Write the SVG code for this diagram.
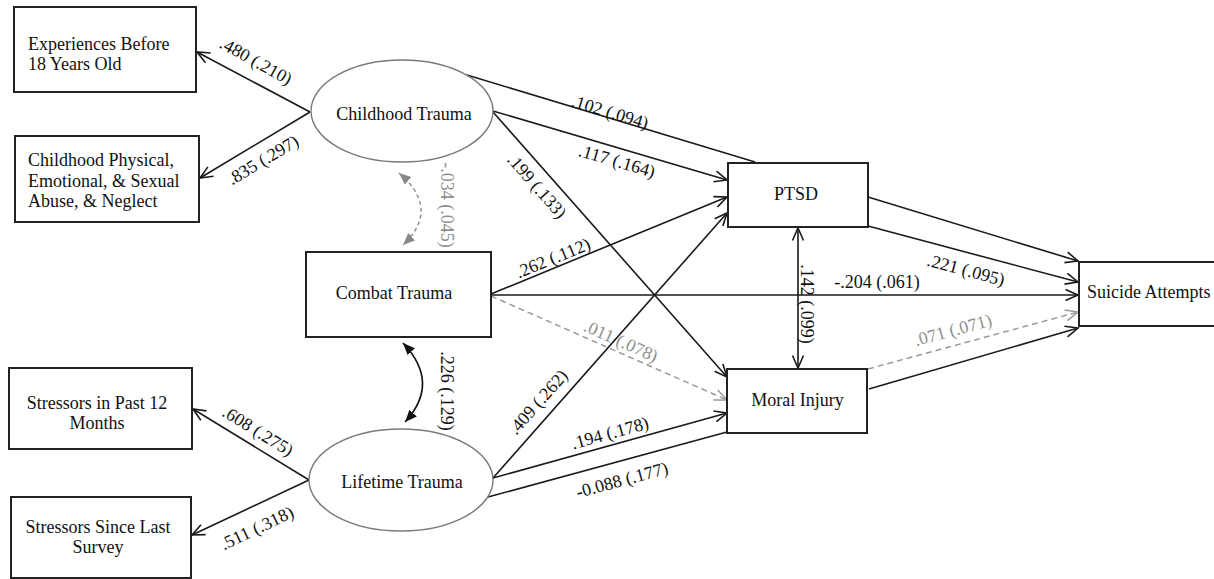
<svg xmlns="http://www.w3.org/2000/svg" width="1214" height="579" viewBox="0 0 1214 579">
<style>
text{font-family:"Liberation Serif","Times New Roman",serif;font-size:18px;fill:#111}
.box{fill:#fff;stroke:#222;stroke-width:2}
.ell{fill:#fff;stroke:#7a7a7a;stroke-width:1.4}
.ln{fill:none;stroke:#1a1a1a;stroke-width:1.6}
.gl{fill:none;stroke:#9a9a9a;stroke-width:1.5;stroke-dasharray:6 4}
.gt{fill:#8e8e8e}
.c{text-anchor:middle}
</style>
<defs>
<marker id="a" markerUnits="userSpaceOnUse" markerWidth="16" markerHeight="14" viewBox="0 0 16 14" refX="14" refY="7" orient="auto-start-reverse"><path d="M1.5,1.5 L14,7 L1.5,12.5" fill="none" stroke="#1a1a1a" stroke-width="1.6"/></marker>
<marker id="ag" markerUnits="userSpaceOnUse" markerWidth="16" markerHeight="14" viewBox="0 0 16 14" refX="14" refY="7" orient="auto-start-reverse"><path d="M1.5,1.5 L14,7 L1.5,12.5" fill="none" stroke="#9a9a9a" stroke-width="1.5"/></marker>
<marker id="f" markerUnits="userSpaceOnUse" markerWidth="14" markerHeight="12" viewBox="0 0 14 12" refX="12" refY="6" orient="auto-start-reverse"><path d="M0,1 L12,6 L0,11 z" fill="#111"/></marker>
<marker id="fg" markerUnits="userSpaceOnUse" markerWidth="14" markerHeight="12" viewBox="0 0 14 12" refX="12" refY="6" orient="auto-start-reverse"><path d="M0,1 L12,6 L0,11 z" fill="#888"/></marker>
</defs>
<rect width="1214" height="579" fill="#fff"/>
<g id="connectors">
<line class="ln" x1="310" y1="112" x2="197" y2="52" marker-end="url(#a)"/>
<line class="ln" x1="310" y1="112" x2="200" y2="178" marker-end="url(#a)"/>
<line class="ln" x1="309" y1="480" x2="193" y2="409" marker-end="url(#a)"/>
<line class="ln" x1="309" y1="480" x2="192" y2="535" marker-end="url(#a)"/>
<line class="ln" x1="467" y1="75" x2="755" y2="162"/>
<line class="ln" x1="493" y1="111" x2="727" y2="180" marker-end="url(#a)"/>
<line class="ln" x1="493" y1="112" x2="727" y2="377" marker-end="url(#a)"/>
<line class="ln" x1="491" y1="294" x2="727" y2="197" marker-end="url(#a)"/>
<line class="ln" x1="491" y1="295" x2="1078" y2="295" marker-end="url(#a)"/>
<line class="gl" x1="491" y1="296" x2="727" y2="400" marker-end="url(#ag)"/>
<line class="ln" x1="493" y1="478" x2="727" y2="213" marker-end="url(#a)"/>
<line class="ln" x1="493" y1="478" x2="727" y2="413" marker-end="url(#a)"/>
<line class="ln" x1="488" y1="497" x2="727" y2="432"/>
<line class="ln" x1="868" y1="197" x2="1078" y2="261" marker-end="url(#a)"/>
<line class="ln" x1="868" y1="226" x2="1078" y2="282" marker-end="url(#a)"/>
<line class="gl" x1="868" y1="369" x2="1078" y2="312" marker-end="url(#ag)"/>
<line class="ln" x1="869" y1="389" x2="1078" y2="328" marker-end="url(#a)"/>
<line class="ln" x1="798" y1="228" x2="798" y2="368" marker-start="url(#a)" marker-end="url(#a)"/>
<path d="M399,173 Q441,209 403,245" fill="none" stroke="#8a8a8a" stroke-width="1.4" stroke-dasharray="4 3" marker-start="url(#fg)" marker-end="url(#fg)"/>
<path d="M403,343 Q441,383 405,422" fill="none" stroke="#111" stroke-width="1.6" marker-start="url(#f)" marker-end="url(#f)"/>
</g>
<g id="labels">
<text class="c" transform="translate(256,61) rotate(29)" y="6">.480 (.210)</text>
<text class="c" transform="translate(263,160) rotate(-31)" y="6">.835 (.297)</text>
<text class="c" transform="translate(258,431) rotate(31.7)" y="6">.608 (.275)</text>
<text class="c" transform="translate(257,528) rotate(-25.6)" y="6">.511 (.318)</text>
<text class="c" transform="translate(610,112) rotate(16.8)" y="6">.102 (.094)</text>
<text class="c" transform="translate(617,161) rotate(16.4)" y="6">.117 (.164)</text>
<text class="c" transform="translate(537,186) rotate(48.6)" y="6">.199 (.133)</text>
<text class="c" transform="translate(553,258) rotate(-22.2)" y="6">.262 (.112)</text>
<text class="c" x="877" y="288">-.204 (.061)</text>
<text class="c gt" transform="translate(621,341) rotate(23.9)" y="6">.011 (.078)</text>
<text class="c" transform="translate(538,402) rotate(-48.5)" y="6">.409 (.262)</text>
<text class="c" transform="translate(610,433) rotate(-15.5)" y="6">.194 (.178)</text>
<text class="c" transform="translate(622,480) rotate(-15.2)" y="6">-0.088 (.177)</text>
<text class="c" transform="translate(966,270) rotate(14.9)" y="6">.221 (.095)</text>
<text class="c gt" transform="translate(953,330) rotate(-15.2)" y="6">.071 (.071)</text>
<text class="c" transform="translate(807,304) rotate(90)" y="6">.142 (.099)</text>
<text class="c gt" transform="translate(447,205) rotate(90)" y="6">-.034 (.045)</text>
<text class="c" transform="translate(447,391) rotate(90)" y="6">.226 (.129)</text>
</g>
<g id="n-experiences">
<rect class="box" x="14" y="7" width="182" height="85"/>
<text x="28" y="50">Experiences Before</text>
<text x="28" y="70">18 Years Old</text>
</g>
<g id="n-abuse">
<rect class="box" x="15" y="136" width="184" height="86"/>
<text x="28" y="166">Childhood Physical,</text>
<text x="28" y="186.5">Emotional, &amp; Sexual</text>
<text x="28" y="207">Abuse, &amp; Neglect</text>
</g>
<g id="n-stress12">
<rect class="box" x="9" y="368" width="183" height="81"/>
<text class="c" x="97" y="409">Stressors in Past 12</text>
<text class="c" x="97" y="429">Months</text>
</g>
<g id="n-stresssurvey">
<rect class="box" x="11" y="497" width="180" height="81"/>
<text class="c" x="98" y="533">Stressors Since Last</text>
<text class="c" x="98" y="553">Survey</text>
</g>
<g id="n-childhood">
<ellipse class="ell" cx="402" cy="111" rx="91" ry="51"/>
<text class="c" x="404" y="120">Childhood Trauma</text>
</g>
<g id="n-lifetime">
<ellipse class="ell" cx="401" cy="480" rx="92" ry="51"/>
<text class="c" x="402" y="488">Lifetime Trauma</text>
</g>
<g id="n-combat">
<rect class="box" x="306" y="252" width="185" height="85"/>
<text class="c" x="394" y="299">Combat Trauma</text>
</g>
<g id="n-ptsd">
<rect class="box" x="728" y="163" width="140" height="64"/>
<text class="c" x="796" y="200">PTSD</text>
</g>
<g id="n-moral">
<rect class="box" x="727" y="369" width="140" height="64"/>
<text class="c" x="797.5" y="406">Moral Injury</text>
</g>
<g id="n-suicide">
<rect class="box" x="1079" y="262" width="145" height="64"/>
<text x="1087" y="298">Suicide Attempts</text>
</g>
</svg>
